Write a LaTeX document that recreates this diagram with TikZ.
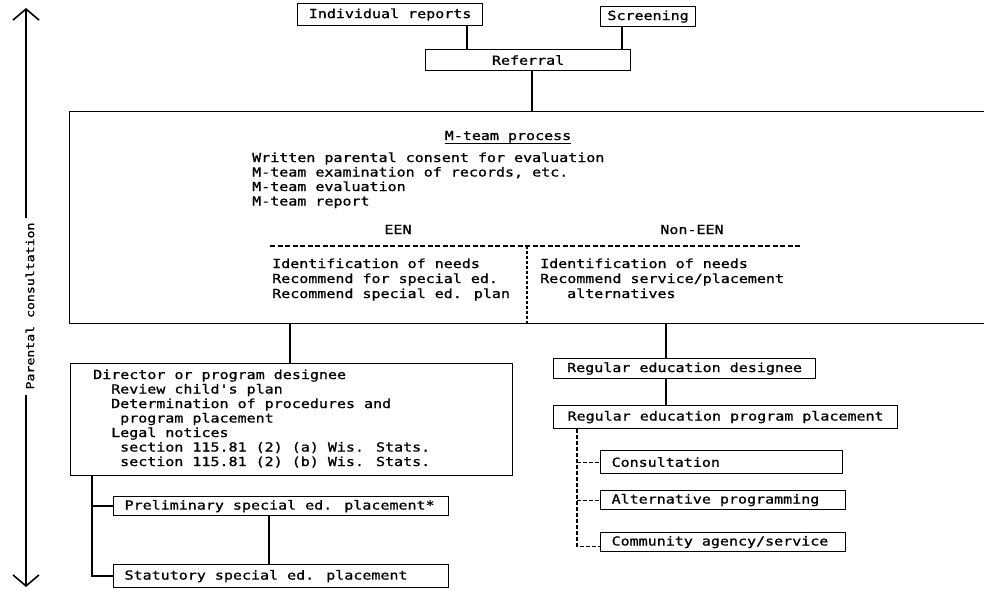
\documentclass[tikz,border=0pt]{standalone}
\usepackage{fontspec}
\newfontfamily\twfont[FakeStretch=1.2, FakeBold=1]{DejaVu Sans Mono}
\usetikzlibrary{arrows.meta}
\begin{document}
\begin{tikzpicture}[x=1pt,y=-1pt,
  every node/.style={font=\twfont\fontsize{12.5}{14.5}\selectfont, inner sep=0pt},
  box/.style={draw, line width=1.2pt, anchor=north west},
  lbox/.style={box, inner xsep=11pt},
  txt/.style={anchor=base west},
  ctxt/.style={anchor=base},
  conn/.style={line width=1.4pt},
  dconn/.style={line width=1.2pt, dash pattern=on 4pt off 2pt},
  dline/.style={line width=1.2pt, dash pattern=on 5pt off 2.5pt},
  dvline/.style={line width=1.5pt, dash pattern=on 2.5pt off 2.5pt},
  barb/.style={line width=1.6pt, -{Straight Barb[length=11pt,width=26pt]}}
]
\useasboundingbox (0,0) rectangle (984,589);
\clip (0,0) rectangle (984,589);

% top boxes
\node[box, minimum width=185pt, minimum height=22pt] (indiv) at (297,3) {Individual reports};
\node[box, minimum width=95pt, minimum height=20pt] (scr) at (600,6) {Screening};
\node[box, minimum width=205pt, minimum height=21pt] (ref) at (425,49) {Referral};

% M-team box
\node[box, minimum width=950pt, minimum height=212pt] (mteam) at (69,111) {};
\node[ctxt] (proc) at (508,140) {M-team process};
\draw[line width=1pt] ([yshift=-3pt]proc.base west) -- ([yshift=-3pt]proc.base east);
\node[txt] (w1) at (252,162) {Written parental consent for evaluation};
\node[txt] (w2) at (252,176.5) {M-team examination of records, etc.};
\node[txt] (w3) at (252,191) {M-team evaluation};
\node[txt] (w4) at (252,205.5) {M-team report};
\node[ctxt] (een) at (398,234) {EEN};
\node[ctxt] (neen) at (692,234) {Non-EEN};
\coordinate (dl) at (270,246);
\coordinate (dr) at (800,246);
\draw[dline] (dl) -- (dr);
\coordinate (dvt) at (527,246);
\coordinate (dvb) at (527,323);
\draw[dvline] (dvt) -- (dvb);
\node[txt] (l1) at (272,268) {Identification of needs};
\node[txt] (l2) at (272,283) {Recommend for special ed.};
\node[txt] (l3) at (272,298) {Recommend special ed. plan};
\node[txt] (r1) at (540,268) {Identification of needs};
\node[txt] (r2) at (540,283) {Recommend service/placement};
\node[txt] (r3) at (567,298) {alternatives};

% director box
\node[box, minimum width=442pt, minimum height=112pt] (dir) at (70,363) {};
\node[txt] (d1) at (93,379) {Director or program designee};
\node[txt] (d2) at (111,393.5) {Review child's plan};
\node[txt] (d3) at (111,408) {Determination of procedures and};
\node[txt] (d4) at (120,422.5) {program placement};
\node[txt] (d5) at (111,437) {Legal notices};
\node[txt] (d6) at (120,451.5) {section 115.81 (2) (a) Wis. Stats.};
\node[txt] (d7) at (120,466) {section 115.81 (2) (b) Wis. Stats.};

\node[lbox, minimum height=19pt] (prel) at (113,496) {\makebox[313pt][l]{Preliminary special ed. placement*}};
\node[lbox, minimum height=23pt] (stat) at (113,564) {\makebox[313pt][l]{Statutory special ed. placement}};

% regular education
\node[box, minimum width=262pt, minimum height=20pt] (rd) at (553,358) {Regular education designee};
\node[box, minimum width=344pt, minimum height=23pt] (rp) at (553,405) {Regular education program placement};
\node[lbox, minimum height=23pt] (cons) at (600,450) {\makebox[220pt][l]{Consultation}};
\node[lbox, minimum height=19pt] (alt) at (600,490) {\makebox[223pt][l]{Alternative programming}};
\node[lbox, minimum height=19pt] (comm) at (600,532) {\makebox[223pt][l]{Community agency/service}};

% connectors
\coordinate (xi) at (467,0);
\coordinate (xs) at (622,0);
\coordinate (xr) at (532,0);
\coordinate (xd) at (290,0);
\coordinate (xg) at (666,0);
\coordinate (xl) at (92,0);
\coordinate (xp) at (269,0);
\coordinate (xt) at (577,0);
\draw[conn] (xi |- indiv.south) -- (xi |- ref.north);
\draw[conn] (xs |- scr.south) -- (xs |- ref.north);
\draw[conn] (xr |- ref.south) -- (xr |- mteam.north);
\draw[conn] (xd |- mteam.south) -- (xd |- dir.north);
\draw[conn] (xg |- mteam.south) -- (xg |- rd.north);
\draw[conn] (xg |- rd.south) -- (xg |- rp.north);
\draw[conn] (xl |- dir.south) |- (stat.west);
\draw[conn] (xl |- prel.west) -- (prel.west);
\draw[conn] (xp |- prel.south) -- (xp |- stat.north);
\draw[dconn] (xt |- rp.south) |- ([yshift=-4pt]comm.west);
\draw[dconn] (xt |- cons.west) -- (cons.west);
\draw[dconn] (xt |- alt.west) -- (alt.west);

% parental consultation arrow
\coordinate (atop) at (26,8);
\coordinate (a1) at (26,218);
\coordinate (a2) at (26,395);
\coordinate (abot) at (26,587);
\draw[barb] (a1) -- (atop);
\draw[barb] (a2) -- (abot);
\node[rotate=90, font=\twfont\fontsize{11}{12}\selectfont] (pc) at (30,306) {Parental consultation};
\end{tikzpicture}
\end{document}
